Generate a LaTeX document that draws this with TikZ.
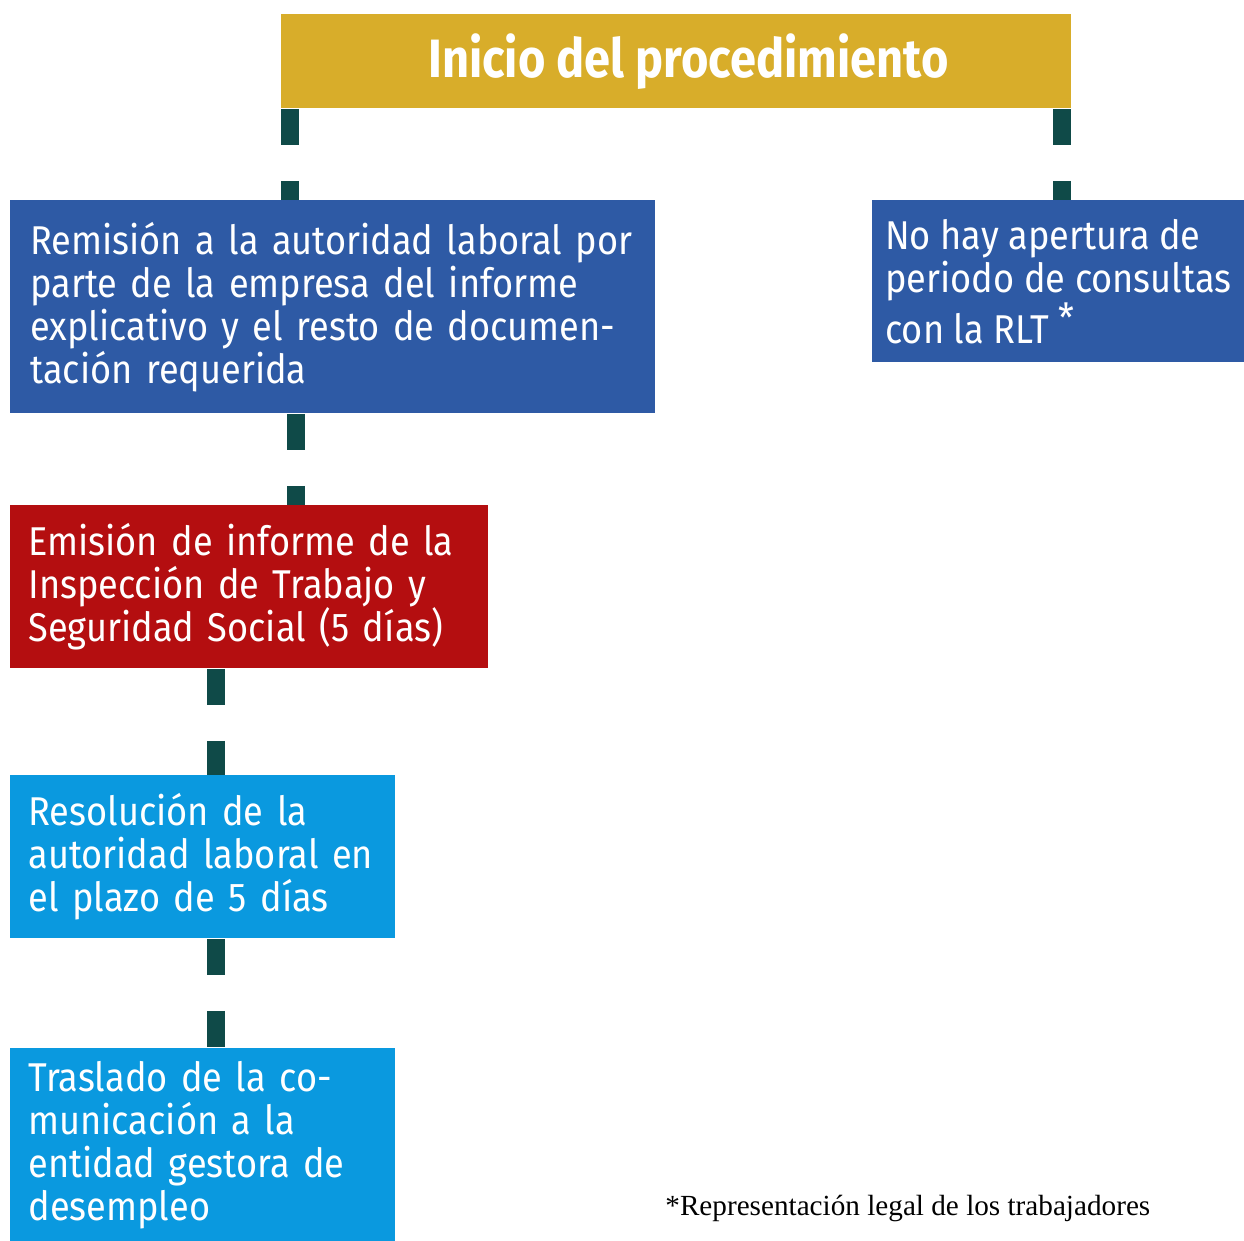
\documentclass[tikz,border=0pt]{standalone}
\usepackage{fontspec}
\setmainfont{Liberation Serif}
\newfontfamily\boxfont[FakeStretch=0.9]{Fira Sans}
\newfontfamily\titlefont[FakeStretch=0.87]{Fira Sans}
\usetikzlibrary{positioning}

\definecolor{oro}{HTML}{D8AD2A}
\definecolor{azul}{HTML}{2E5AA5}
\definecolor{rojo}{HTML}{B40E10}
\definecolor{celeste}{HTML}{0A99DF}
\definecolor{verde}{HTML}{0F4A48}

\tikzset{
    paso/.style={anchor=north west, inner xsep=9pt, inner ysep=0pt, text=white, align=left,
        font=\boxfont\fontsize{20.1}{21.5}\selectfont},
    enlace/.style={draw=verde, line width=9pt, dash pattern=on 18pt off 18pt},
}

\begin{document}
\begin{tikzpicture}[x=0.5pt,y=-0.5pt]
    \useasboundingbox (0,0) rectangle (1244,1241);

    % cajas
    \node[paso, fill=oro, minimum width=395pt, minimum height=47pt, align=center,
        font=\titlefont\bfseries\fontsize{27}{30}\selectfont] (inicio) at (281,14) {\hspace*{12pt}Inicio del procedimiento};
    \node[paso, fill=azul, text width=302.5pt, minimum height=106.5pt, inner xsep=10pt] (remision) at (10,200)
        {Remisión a la autoridad laboral por\\parte de la empresa del informe\\explicativo y el resto de documen-\\tación requerida};
    \node[paso, fill=azul, minimum width=186pt, minimum height=81pt, inner xsep=5.5pt] (nohay) at (872,200)
        {No hay apertura de\\periodo de consultas\\con la RLT\ \raisebox{0.5ex}{*}};
    \node[paso, fill=rojo, text width=221pt, minimum height=81.5pt] (emision) at (10,505)
        {Emisión de informe de la\\Inspección de Trabajo y\\Seguridad Social (5 días)};
    \node[paso, fill=celeste, text width=174.5pt, minimum height=81.5pt] (resolucion) at (10,775)
        {Resolución de la\\autoridad laboral en\\el plazo de 5 días};
    \node[paso, fill=celeste, text width=174.5pt, minimum height=96.5pt] (traslado) at (10,1048)
        {Traslado de la co-\\municación a la\\entidad gestora de\\desempleo};

    % enlaces
    \draw[enlace] ([xshift=4.5pt]inicio.south west) -- ([xshift=4.5pt]inicio.south west |- remision.north);
    \draw[enlace] ([xshift=-5pt]inicio.south east) -- ([xshift=-5pt]inicio.south east |- nohay.north);
    \draw[enlace] ([xshift=143pt]remision.south west) -- ([xshift=143pt]emision.north west);
    \draw[enlace] ([xshift=103pt]emision.south west) -- ([xshift=103pt]resolucion.north west);
    \draw[enlace] ([xshift=103pt]resolucion.south west) -- ([xshift=103pt]traslado.north west);

    % nota
    \node[anchor=base west, inner sep=0pt, font=\fontsize{14.6}{17}\selectfont] (nota) at (665,1215)
        {*Representación legal de los trabajadores};
\end{tikzpicture}
\end{document}
